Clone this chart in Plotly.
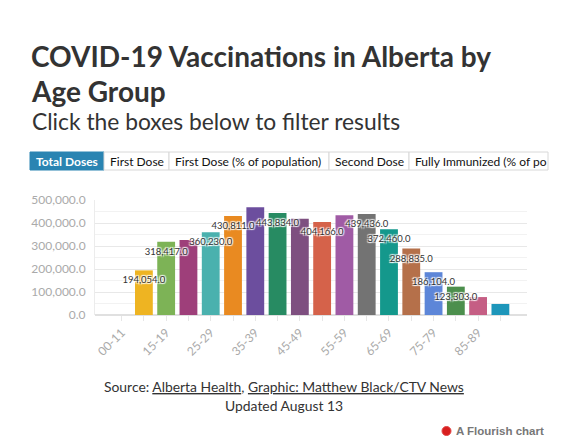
import plotly.graph_objects as go

# Total doses by age group (Alberta, Aug 13)
age_groups = ["00-11", "12-14", "15-19", "20-24", "25-29", "30-34", "35-39", "40-44", "45-49",
              "50-54", "55-59", "60-64", "65-69", "70-74", "75-79", "80-84", "85-89", "90+"]
total_doses = [0, 194054, 318417, 326000, 360230, 430811, 469000, 443834, 418000,
               404166, 434000, 439436, 372460, 288835, 186104, 123303, 78000, 48000]
bar_colors = ["#eeb422", "#eeb422", "#7db356", "#9e3f7a", "#4ab1ae", "#e98a21", "#6c4e9e", "#278b62", "#7e4f80",
              "#d5624a", "#a05ba5", "#737373", "#14988c", "#b5704a", "#5d86d8", "#4c8f4d", "#c55e84", "#1d96ba"]
# bars whose value label is visible in the original (others hidden by overlap)
labelled = ["12-14", "15-19", "25-29", "30-34", "40-44", "50-54", "60-64", "65-69", "70-74", "75-79", "80-84"]
tick_labels = [g if i % 2 == 0 else "" for i, g in enumerate(age_groups)]
filter_buttons = ["Total Doses", "First Dose", "First Dose (% of population)", "Second Dose",
                  "Fully Immunized (% of po"]

W, H = 565, 447
OFF = 8  # page body margin shifts the figure by 8px
L, R, T, B = 95 - OFF, 46, 200 - OFF, 140
PW, PH = W - L - R, H - T - B


def px(x):
    return (x - OFF - L) / PW


def py(y):
    return (H - B - (y - OFF)) / PH


FONT = "Lato"

fig = go.Figure()
fig.add_trace(go.Bar(
    x=age_groups, y=total_doses,
    marker=dict(color=bar_colors, line=dict(width=0)),
    hoverinfo="x+y",
))
fig.add_trace(go.Scatter(
    x=age_groups, y=total_doses,
    mode="markers+text",
    marker=dict(size=8, opacity=0),
    text=[f"{v:,.1f}" if g in labelled else "" for g, v in zip(age_groups, total_doses)],
    textposition="bottom center",
    textfont=dict(family=FONT, size=9.5, color="#333",
                  shadow="1px 1px 1px white, -1px -1px 1px white, 1px -1px 1px white, -1px 1px 1px white"),
    hoverinfo="skip",
))

annotations = [
    dict(text="<b>COVID-19 Vaccinations in Alberta by</b>", x=px(29), y=py(55.5),
         xanchor="left", yanchor="middle", font=dict(family=FONT, size=28, color="#333")),
    dict(text="<b>Age Group</b>", x=px(29), y=py(91),
         xanchor="left", yanchor="middle", font=dict(family=FONT, size=28, color="#333")),
    dict(text="Click the boxes below to filter results", x=px(30), y=py(120.5),
         xanchor="left", yanchor="middle", font=dict(family=FONT, size=22.8, color="#333")),
    dict(text="Source: <u>Alberta Health</u>, <u>Graphic: Matthew Black/CTV News</u>",
         x=px(284), y=py(386), xanchor="center", yanchor="middle",
         font=dict(family=FONT, size=13.9, color="#333")),
    dict(text="Updated August 13", x=px(284), y=py(405), xanchor="center", yanchor="middle",
         font=dict(family=FONT, size=13.9, color="#333")),
    dict(text="<b>A Flourish chart</b>", x=px(454), y=py(431), xanchor="left", yanchor="middle",
         font=dict(family="Liberation Sans", size=11.5, color="#777")),
]

shapes = [dict(type="circle", xref="paper", yref="paper", x0=px(442), x1=px(451), y0=py(426.5), y1=py(435.5),
               fillcolor="#d81e1e", line=dict(color="#e24444", width=1))]

# filter buttons row
edges = [30, 104, 169, 329, 409, 548]
for i, label in enumerate(filter_buttons):
    active = i == 0
    shapes.append(dict(type="rect", xref="paper", yref="paper",
                       x0=px(edges[i]), x1=px(edges[i + 1]), y0=py(170), y1=py(152),
                       fillcolor="#2a84b2" if active else "white",
                       line=dict(color="#2a84b2" if active else "#d8d8d8", width=1)))
    annotations.append(dict(text=f"<b>{label}</b>" if active else label,
                            x=px(edges[i] + 4), y=py(161.5), xanchor="left", yanchor="middle",
                            font=dict(family=FONT, size=12, color="white" if active else "#111")))

for a in annotations:
    a.update(xref="paper", yref="paper", showarrow=False)

fig.update_layout(
    width=W, height=H,
    margin=dict(l=L, r=R, t=T, b=B),
    paper_bgcolor="white", plot_bgcolor="white",
    showlegend=False,
    bargap=0.2,
    font=dict(family=FONT, color="#333"),
    annotations=annotations,
    shapes=shapes,
    xaxis=dict(
        type="category",
        tickmode="array", tickvals=age_groups, ticktext=tick_labels,
        tickangle=-45, tickfont=dict(family=FONT, size=12, color="#aaa"),
        ticks="outside", ticklen=5, tickcolor="#e6e6e6",
        showgrid=False, showline=False, fixedrange=True,
    ),
    yaxis=dict(
        range=[0, 500000], dtick=100000, tickformat=",.1f",
        tickfont=dict(family=FONT, size=12, color="#aaa"),
        showgrid=True, gridcolor="#e8e8e8", gridwidth=1,
        minor=dict(dtick=50000, showgrid=True, gridcolor="#f2f2f2"),
        zeroline=True, zerolinecolor="#e0e0e0",
        showline=True, linecolor="#ececec",
        ticklabelstandoff=6, fixedrange=True,
    ),
)

fig.write_html("out.html")
